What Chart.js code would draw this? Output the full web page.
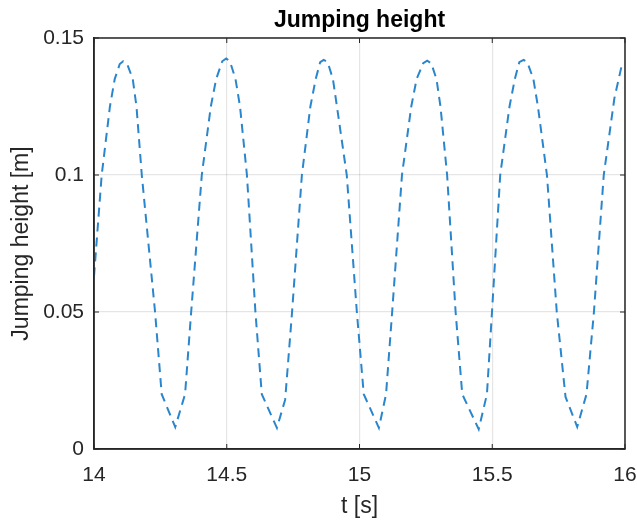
<!DOCTYPE html>
<html>
<head>
<meta charset="utf-8">
<script src="https://cdn.jsdelivr.net/npm/chart.js@4"></script>
<style>
  html, body { margin: 0; padding: 0; background: #fff; overflow: hidden; }
  #wrap { width: 637px; height: 520px; }
</style>
</head>
<body>
<div id="wrap"><canvas id="jump"></canvas></div>
<script>
// time [s]
var tValues = [
  14.000, 14.029, 14.060, 14.078, 14.097, 14.110, 14.125, 14.146, 14.160, 14.180,
  14.230, 14.255, 14.306, 14.343, 14.366, 14.406, 14.440, 14.460, 14.483, 14.498,
  14.512, 14.533, 14.550, 14.576, 14.608, 14.632, 14.689, 14.720, 14.746, 14.783,
  14.815, 14.835, 14.852, 14.865, 14.880, 14.900, 14.915, 14.952, 14.990, 15.016,
  15.073, 15.100, 15.123, 15.160, 15.195, 15.215, 15.240, 15.255, 15.270, 15.290,
  15.305, 15.330, 15.362, 15.387, 15.449, 15.480, 15.499, 15.530, 15.565, 15.585,
  15.602, 15.618, 15.632, 15.655, 15.672, 15.706, 15.743, 15.776, 15.820, 15.855,
  15.883, 15.920, 15.960, 15.990
];
// jumping height [m]
var heightValues = [
  0.063, 0.100, 0.125, 0.135, 0.1405, 0.1415, 0.1405, 0.135, 0.125, 0.100,
  0.050, 0.020, 0.008, 0.020, 0.050, 0.100, 0.125, 0.135, 0.1415, 0.1425,
  0.1415, 0.135, 0.125, 0.100, 0.050, 0.020, 0.0077, 0.018, 0.050, 0.100,
  0.125, 0.135, 0.1412, 0.142, 0.1412, 0.135, 0.125, 0.100, 0.050, 0.020,
  0.0077, 0.020, 0.050, 0.100, 0.125, 0.135, 0.1408, 0.1417, 0.1408, 0.135,
  0.125, 0.100, 0.050, 0.020, 0.0072, 0.020, 0.050, 0.100, 0.125, 0.135,
  0.1412, 0.142, 0.1412, 0.135, 0.125, 0.100, 0.050, 0.019, 0.0081, 0.020,
  0.050, 0.100, 0.128, 0.141
];
var xTicks = [14, 14.5, 15, 15.5, 16];
var yTicks = [0, 0.05, 0.1, 0.15];
var chartTitle = "Jumping height";

var points = tValues.map(function (t, i) { return { x: t, y: heightValues[i] }; });

var axisColor = "#262626";
var fontFamily = "'Liberation Sans', Arial, Helvetica, sans-serif";

// box on top/right, inward tick marks and a title centred over the axes
var boxPlugin = {
  id: "box",
  afterDraw: function (chart) {
    var c = chart.ctx, a = chart.chartArea;
    var xs = chart.scales.x, ys = chart.scales.y;
    c.save();
    c.strokeStyle = axisColor;
    c.lineWidth = 1.5;
    c.strokeRect(a.left, a.top, a.right - a.left, a.bottom - a.top);
    c.lineWidth = 1;
    c.beginPath();
    xTicks.forEach(function (v) {
      var px = xs.getPixelForValue(v);
      c.moveTo(px, a.bottom); c.lineTo(px, a.bottom - 5);
      c.moveTo(px, a.top); c.lineTo(px, a.top + 5);
    });
    yTicks.forEach(function (v) {
      var py = ys.getPixelForValue(v);
      c.moveTo(a.left, py); c.lineTo(a.left + 5, py);
      c.moveTo(a.right, py); c.lineTo(a.right - 5, py);
    });
    c.stroke();

    c.fillStyle = "#000";
    c.font = "bold 23px " + fontFamily;
    c.textAlign = "center";
    c.textBaseline = "middle";
    c.fillText(chartTitle, (a.left + a.right) / 2, 21);
    c.restore();
  }
};

new Chart(document.getElementById("jump"), {
  type: "line",
  data: {
    datasets: [{
      label: chartTitle,
      data: points,
      borderColor: "#2a86cc",
      borderWidth: 2,
      borderDash: [9, 6],
      pointRadius: 0,
      fill: false,
      tension: 0
    }]
  },
  options: {
    responsive: true,
    maintainAspectRatio: false,
    animation: false,
    layout: { padding: { left: 8, right: 12, top: 38, bottom: 0 } },
    plugins: {
      legend: { display: false },
      tooltip: { enabled: false },
      title: { display: false }
    },
    scales: {
      x: {
        type: "linear",
        min: 14,
        max: 16,
        afterBuildTicks: function (s) { s.ticks = xTicks.map(function (v) { return { value: v }; }); },
        afterFit: function (s) { s.height = 71; s.paddingLeft = 0; s.paddingRight = 0; },
        ticks: {
          color: axisColor,
          font: { family: fontFamily, size: 21 },
          padding: 14,
          maxRotation: 0,
          callback: function (v) { return String(Number(v.toFixed(2))); }
        },
        grid: { color: "rgba(0,0,0,0.1)", lineWidth: 1.2, drawTicks: false },
        border: { display: true, color: axisColor, width: 1.5 },
        title: {
          display: true,
          text: "t [s]",
          color: axisColor,
          font: { family: fontFamily, size: 23 },
          padding: { top: 0, bottom: 0 }
        }
      },
      y: {
        type: "linear",
        min: 0,
        max: 0.15,
        afterBuildTicks: function (s) { s.ticks = yTicks.map(function (v) { return { value: v }; }); },
        afterFit: function (s) { s.width = 86; s.paddingTop = 0; s.paddingBottom = 0; },
        ticks: {
          color: axisColor,
          font: { family: fontFamily, size: 21 },
          padding: 10,
          callback: function (v) { return String(Number(v.toFixed(2))); }
        },
        grid: { color: "rgba(0,0,0,0.1)", lineWidth: 1.2, drawTicks: false },
        border: { display: true, color: axisColor, width: 1.5 },
        title: {
          display: true,
          text: "Jumping height [m]",
          color: axisColor,
          font: { family: fontFamily, size: 23 },
          padding: { top: 0, bottom: 0 }
        }
      }
    }
  },
  plugins: [boxPlugin]
});
</script>
</body>
</html>
